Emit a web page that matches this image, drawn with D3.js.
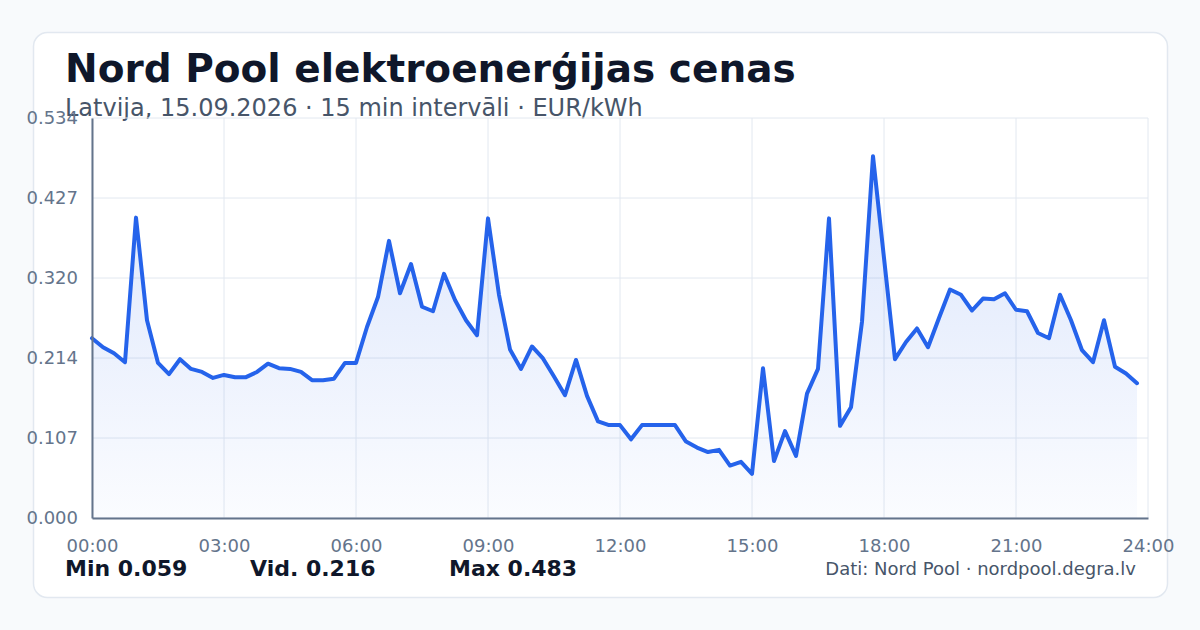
<!DOCTYPE html>
<html>
<head>
<meta charset="utf-8">
<script src="https://cdn.jsdelivr.net/npm/d3@7"></script>
<style>
  body { margin: 0; background: #f8fafc; }
  svg { display: block; font-family: "DejaVu Sans", sans-serif; }
</style>
</head>
<body>
<svg id="chart" width="1200" height="630"></svg>
<script>
// 15 min prices, EUR/kWh (00:00 .. 23:45)
var prices = [
  0.240, 0.228, 0.220, 0.208, 0.401, 0.264, 0.207, 0.192,
  0.212, 0.199, 0.195, 0.187, 0.191, 0.188, 0.188, 0.195,
  0.206, 0.200, 0.199, 0.195, 0.184, 0.184, 0.186, 0.207,
  0.207, 0.255, 0.295, 0.370, 0.300, 0.339, 0.282, 0.276,
  0.326, 0.291, 0.264, 0.244, 0.400, 0.298, 0.225, 0.199,
  0.229, 0.213, 0.189, 0.164, 0.211, 0.163, 0.129, 0.124,
  0.124, 0.105, 0.124, 0.124, 0.124, 0.124, 0.102, 0.094,
  0.088, 0.091, 0.070, 0.075, 0.059, 0.200, 0.076, 0.116,
  0.083, 0.166, 0.199, 0.400, 0.123, 0.148, 0.262, 0.483,
  0.347, 0.212, 0.235, 0.253, 0.228, 0.267, 0.305, 0.298,
  0.277, 0.293, 0.292, 0.300, 0.278, 0.276, 0.247, 0.240,
  0.298, 0.264, 0.224, 0.208, 0.264, 0.202, 0.193, 0.180
];

var yTicks = [0, 0.1068, 0.2136, 0.3204, 0.4272, 0.534];
var xTicks = [0, 3, 6, 9, 12, 15, 18, 21, 24];
var stats = [
  {label: "Min", value: 0.059},
  {label: "Vid.", value: 0.216},
  {label: "Max", value: 0.483}
];
var statX = [65, 250, 449];

var svg = d3.select("#chart");
var margin = {top: 118, right: 52, bottom: 112, left: 92};
var width = +svg.attr("width") - margin.left - margin.right;
var height = +svg.attr("height") - margin.top - margin.bottom;

// card
svg.append("rect")
  .attr("x", 33.5).attr("y", 32.5)
  .attr("width", 1134).attr("height", 565)
  .attr("rx", 14)
  .attr("fill", "#ffffff")
  .attr("stroke", "#e2e8f0")
  .attr("stroke-width", 1.5);

svg.append("text")
  .attr("x", 65).attr("y", 82)
  .attr("font-size", 39).attr("font-weight", "bold")
  .attr("fill", "#0f172a")
  .text("Nord Pool elektroenerģijas cenas");

svg.append("text")
  .attr("x", 65).attr("y", 116)
  .attr("font-size", 24)
  .attr("fill", "#475569")
  .text("Latvija, 15.09.2026 · 15 min intervāli · EUR/kWh");

var x = d3.scaleLinear().domain([0, 24]).range([0, width]);
var y = d3.scaleLinear().domain([0, 0.534]).range([height, 0]);

var g = svg.append("g").attr("transform", "translate(" + margin.left + "," + margin.top + ")");

// grid
g.selectAll(".hgrid")
  .data(yTicks)
  .enter().append("line")
    .attr("class", "hgrid")
    .attr("x1", 0).attr("x2", width)
    .attr("y1", (d) => y(d)).attr("y2", (d) => y(d))
    .attr("stroke", "#e2e8f0").attr("stroke-width", 1);

g.selectAll(".vgrid")
  .data(xTicks)
  .enter().append("line")
    .attr("class", "vgrid")
    .attr("x1", (d) => x(d)).attr("x2", (d) => x(d))
    .attr("y1", 0).attr("y2", height)
    .attr("stroke", "#e2e8f0").attr("stroke-width", 1);

// area gradient
var grad = svg.append("defs").append("linearGradient")
  .attr("id", "areaFill")
  .attr("gradientUnits", "userSpaceOnUse")
  .attr("x1", 0).attr("x2", 0)
  .attr("y1", 0).attr("y2", height);
grad.append("stop").attr("offset", "0%").attr("stop-color", "#2563eb").attr("stop-opacity", 0.18);
grad.append("stop").attr("offset", "100%").attr("stop-color", "#2563eb").attr("stop-opacity", 0.02);

var area = d3.area()
  .x((d, i) => x(i / 4))
  .y0(height)
  .y1((d) => y(d));

var line = d3.line()
  .x((d, i) => x(i / 4))
  .y((d) => y(d));

g.append("path")
  .datum(prices)
  .attr("d", area)
  .attr("fill", "url(#areaFill)");

g.append("path")
  .datum(prices)
  .attr("d", line)
  .attr("fill", "none")
  .attr("stroke", "#2563eb")
  .attr("stroke-width", 4)
  .attr("stroke-linejoin", "round")
  .attr("stroke-linecap", "round");

// axes
var yAxis = g.append("g")
  .call(d3.axisLeft(y).tickValues(yTicks).tickFormat(d3.format(".3f")).tickSize(0).tickPadding(14));

var xAxis = g.append("g")
  .attr("transform", "translate(0," + height + ")")
  .call(d3.axisBottom(x).tickValues(xTicks)
    .tickFormat((d) => (d < 10 ? "0" : "") + d + ":00")
    .tickSize(0).tickPadding(21));

[yAxis, xAxis].forEach(function(ax) {
  ax.select(".domain").attr("stroke", "#64748b").attr("stroke-width", 2);
  ax.selectAll("text")
    .attr("font-family", "DejaVu Sans, sans-serif")
    .attr("font-size", 18)
    .attr("fill", "#64748b");
});

// footer
svg.selectAll(".stat")
  .data(stats)
  .enter().append("text")
    .attr("class", "stat")
    .attr("x", (d, i) => statX[i]).attr("y", 576)
    .attr("font-size", 22).attr("font-weight", "bold")
    .attr("fill", "#0f172a")
    .text((d) => d.label + " " + d.value.toFixed(3));

svg.append("text")
  .attr("x", 1136).attr("y", 575)
  .attr("text-anchor", "end")
  .attr("font-size", 18)
  .attr("fill", "#475569")
  .text("Dati: Nord Pool · nordpool.degra.lv");
</script>
</body>
</html>
